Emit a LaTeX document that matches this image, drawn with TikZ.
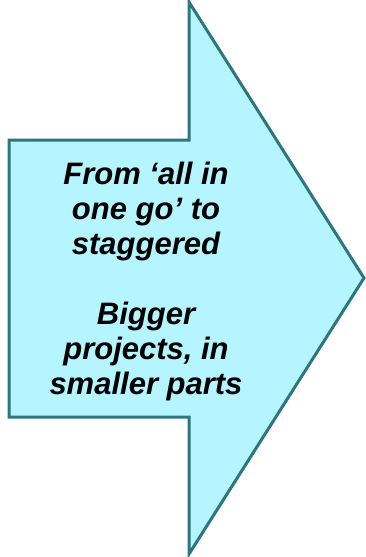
\documentclass[tikz,border=0pt]{standalone}
\usepackage{fontspec}
\setmainfont{Liberation Sans}
\definecolor{arrowfill}{RGB}{180,245,255}
\definecolor{arrowline}{RGB}{46,118,126}
\begin{document}
\begin{tikzpicture}[x=1pt,y=-1pt,
  blockarrow/.style={draw=arrowline, fill=arrowfill, line width=3pt, line join=miter},
  caption/.style={align=center, font=\fontsize{31}{35}\selectfont\bfseries\itshape, inner sep=0pt}]
  \useasboundingbox (0,0) rectangle (366,557);
  % block arrow: rectangular body with a triangular head
  \draw[blockarrow] (9,140) -- (189,140) -- (189,2) -- (364,278)
    -- (189,554) -- (189,417) -- (9,417) -- cycle;
  \node[caption] (label) at (146,281) {From ‘all in\\one go’ to\\staggered\\[35pt]Bigger\\projects, in\\smaller parts};
\end{tikzpicture}
\end{document}
